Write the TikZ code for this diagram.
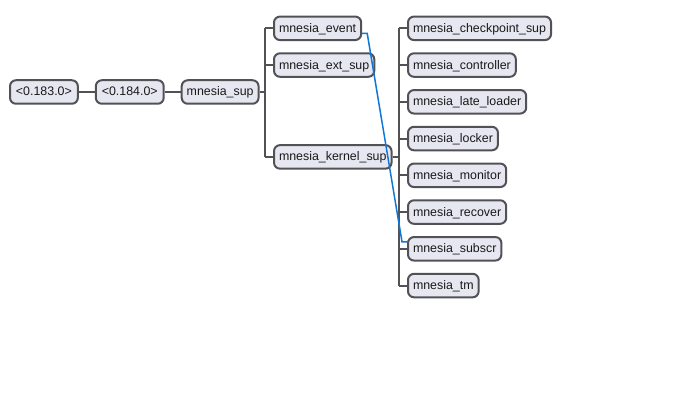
\documentclass[tikz,border=0pt]{standalone}
\usepackage{fontspec}
\setmainfont{Liberation Sans}
\usetikzlibrary{positioning}
\definecolor{BoxLine}{RGB}{82,82,86}
\definecolor{BoxFill}{RGB}{231,231,242}
\definecolor{RelBlue}{RGB}{14,120,214}
\tikzset{
  box/.style={draw=BoxLine,line width=2pt,rounded corners=6pt,fill=BoxFill,
    minimum height=23.5pt,inner xsep=5pt,text height=10pt,text depth=2pt,
    font=\fontsize{12.4pt}{15pt}\selectfont,text=black!90},
  link/.style={draw=BoxLine,line width=2pt},
  rel/.style={draw=RelBlue,line width=1.5pt}
}

\begin{document}
\begin{tikzpicture}[x=1pt,y=1pt,node distance=11.25pt]
      \useasboundingbox (0,0) rectangle (683,-409);
      % process chain
      \node[box,anchor=west,inner xsep=6pt] (p183) at (9,-92) {<0.183.0>};
      \node[box,right=16pt of p183,inner xsep=6pt] (p184) {<0.184.0>};
      \node[box,right=16pt of p184] (msup) {mnesia\_sup};
      % children of mnesia_sup
      \node[box,anchor=west] (event) at (273,-28.3) {mnesia\_event};
      \node[box,below=of event.south west,anchor=north west] (extsup)
        {mnesia\_ext\_sup};
      \node[box,anchor=west] (kern) at (273,-156.9) {mnesia\_kernel\_sup};
      % children of mnesia_kernel_sup
      \node[box,anchor=west] (chk) at (407,-28.3) {mnesia\_checkpoint\_sup};
      \node[box,below=of chk.south west,anchor=north west] (ctrl)
        {mnesia\_controller};
      \node[box,below=of ctrl.south west,anchor=north west] (late)
        {mnesia\_late\_loader};
      \node[box,below=of late.south west,anchor=north west] (lock)
        {mnesia\_locker};
      \node[box,below=of lock.south west,anchor=north west] (mon)
        {mnesia\_monitor};
      \node[box,below=of mon.south west,anchor=north west] (recov)
        {mnesia\_recover};
      \node[box,below=of recov.south west,anchor=north west] (subscr)
        {mnesia\_subscr};
      \node[box,below=of subscr.south west,anchor=north west] (tm)
        {mnesia\_tm};

      \coordinate (t1) at (265,-92);
      \coordinate (t2) at (399,-157);

      \draw[link] (p183) -- (p184);
      \draw[link] (p184) -- (msup);
      \draw[link] (msup) -- (msup -| t1);
      \draw[link] (t1 |- event) -- (t1 |- kern);
      \draw[link] (t1 |- event) -- (event);
      \draw[link] (t1 |- extsup) -- (extsup);
      \draw[link] (t1 |- kern) -- (kern);
      \draw[link] (kern) -- (kern -| t2);
      \draw[link] (t2 |- chk) -- (t2 |- tm);
      \draw[link] (t2 |- chk) -- (chk);
      \draw[link] (t2 |- ctrl) -- (ctrl);
      \draw[link] (t2 |- late) -- (late);
      \draw[link] (t2 |- lock) -- (lock);
      \draw[link] (t2 |- mon) -- (mon);
      \draw[link] (t2 |- recov) -- (recov);
      \draw[link] (t2 |- subscr) -- (subscr);
      \draw[link] (t2 |- tm) -- (tm);

      \draw[rel] ([yshift=-5pt]event.east) -- ++(5,0)
        -- ([xshift=-5pt,yshift=7pt]subscr.west) -- ([yshift=7pt]subscr.west);
    \end{tikzpicture}
\end{document}
